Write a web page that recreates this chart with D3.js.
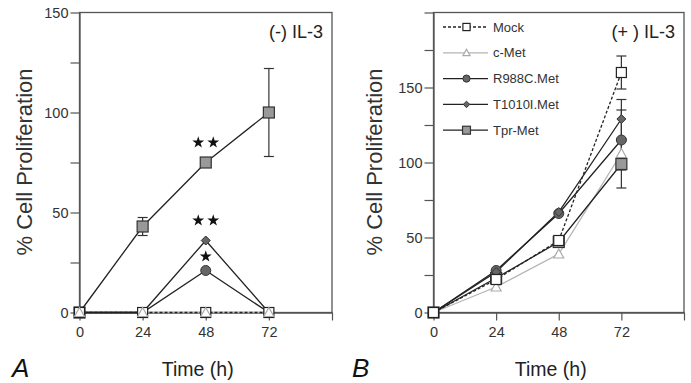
<!DOCTYPE html>
<html>
<head>
<meta charset="utf-8">
<script src="https://cdn.jsdelivr.net/npm/d3@7"></script>
<style>
  body { margin: 0; background: #fff; }
  svg { display: block; font-family: "Liberation Sans", Arial, sans-serif; }
</style>
</head>
<body>
<svg id="chart" width="691" height="383"></svg>
<script>
// time points (h)
const hours = [0, 24, 48, 72];
const xTicks = [0, 24, 48, 72, 96];
const seriesNames = ["Mock", "c-Met", "R988C.Met", "T1010I.Met", "Tpr-Met"];

// panel A, (-) IL-3
const minusMock = [0, 0, 0, 0];
const minusCMet = [0, 0, 0, 0];
const minusR988C = [0, 0, 21, 0];
const minusT1010I = [0, 0, 36, 0];
const minusTpr = [0, 43, 75, 100];
const minusTprErr = [0, 4.5, 0, 22];
const yTicksA = [0, 25, 50, 75, 100, 125, 150];
const yLabelsA = [0, 50, 100, 150];

// panel B, (+) IL-3
const plusMock = [0, 22, 48, 160];
const plusMockErr = [0, 0, 0, 11];
const plusCMet = [0, 17, 39, 106];
const plusR988C = [0, 28, 66, 115];
const plusR988CErr = [0, 0, 0, 20];
const plusT1010I = [0, 27, 67, 129];
const plusT1010IErr = [0, 0, 0, 13];
const plusTpr = [0, 23, 47, 99];
const plusTprErr = [0, 0, 0, 16];
const yTicksB = [0, 25, 50, 75, 100, 125, 150, 175, 200];
const yLabelsB = [0, 50, 100, 150];

// significance stars in panel A: [hour, value above which, number of stars]
const starsA = [[48, 75, 2], [48, 36, 2], [48, 21, 1]];

const styles = {
  "Mock":       { shape: "square",   fill: "#fff",  stroke: "#222", line: "#222", dash: "3,2", size: 10 },
  "c-Met":      { shape: "triangle", fill: "#fff",  stroke: "#aaa", line: "#b4b4b4", dash: null, size: 10 },
  "R988C.Met":  { shape: "circle",   fill: "#666",  stroke: "#333", line: "#222", dash: null, size: 10 },
  "T1010I.Met": { shape: "diamond",  fill: "#666",  stroke: "#333", line: "#222", dash: null, size: 9 },
  "Tpr-Met":    { shape: "square",   fill: "#999",  stroke: "#333", line: "#222", dash: null, size: 11 }
};

const svg = d3.select("#chart");

function marker(g, shape, x, y, s, fill, stroke) {
  const h = s / 2;
  if (shape === "square") {
    g.append("rect").attr("x", x - h).attr("y", y - h).attr("width", s).attr("height", s)
      .attr("fill", fill).attr("stroke", stroke).attr("stroke-width", 1.2);
  } else if (shape === "circle") {
    g.append("circle").attr("cx", x).attr("cy", y).attr("r", h)
      .attr("fill", fill).attr("stroke", stroke).attr("stroke-width", 1);
  } else if (shape === "diamond") {
    g.append("path").attr("d", `M${x},${y - h}L${x + h},${y}L${x},${y + h}L${x - h},${y}Z`)
      .attr("fill", fill).attr("stroke", stroke).attr("stroke-width", 1);
  } else if (shape === "triangle") {
    g.append("path").attr("d", `M${x},${y - h}L${x + h},${y + h * 0.8}L${x - h},${y + h * 0.8}Z`)
      .attr("fill", fill).attr("stroke", stroke).attr("stroke-width", 1.2);
  }
}

function drawPanel(cfg) {
  const x = d3.scaleLinear().domain([0, 96]).range(cfg.xRange);
  const y = d3.scaleLinear().domain(cfg.yDomain).range([312.5, 12.5]);
  const g = svg.append("g");

  // frame
  g.append("rect").attr("x", x(0)).attr("y", y.range()[1])
    .attr("width", x(96) - x(0)).attr("height", y.range()[0] - y.range()[1])
    .attr("fill", "none").attr("stroke", "#555").attr("stroke-width", 1.3);

  // axes
  const yAxis = d3.axisLeft(y).tickValues(cfg.yTicks).tickSize(9).tickSizeOuter(0)
    .tickFormat(d => cfg.yLabels.includes(d) ? d : "");
  const ga = g.append("g").attr("transform", `translate(${x(0)},0)`).call(yAxis);
  const xAxis = d3.axisBottom(x).tickValues(xTicks).tickSize(8).tickSizeOuter(0)
    .tickFormat(d => d === 96 ? "" : d);
  const gb = g.append("g").attr("transform", `translate(0,${y(0)})`).call(xAxis);
  [ga, gb].forEach(a => {
    a.select(".domain").attr("stroke", "#555").attr("stroke-width", 1.3);
    a.selectAll(".tick line").attr("stroke", "#555").attr("stroke-width", 1.2);
    a.selectAll(".tick text").attr("font-size", 14.5).attr("fill", "#333")
      .attr("font-family", "Liberation Sans, Arial, sans-serif");
  });
  ga.selectAll(".tick text").attr("x", -11).attr("dy", "0.34em");
  gb.selectAll(".tick text").attr("y", 14);

  // lines
  const line = d3.line().x((d, i) => x(hours[i])).y(d => y(d));
  cfg.series.forEach(s => {
    const st = styles[s.name];
    g.append("path").datum(s.values).attr("d", line).attr("fill", "none")
      .attr("stroke", st.line).attr("stroke-width", 1.3)
      .attr("stroke-dasharray", st.dash);
  });

  // error bars
  cfg.series.forEach(s => {
    if (!s.err) return;
    s.values.forEach((v, i) => {
      const e = s.err[i];
      if (!e) return;
      const cx = x(hours[i]);
      g.append("line").attr("x1", cx).attr("x2", cx).attr("y1", y(v - e)).attr("y2", y(v + e))
        .attr("stroke", "#333").attr("stroke-width", 1.2);
      [v - e, v + e].forEach(t => g.append("line").attr("x1", cx - 5).attr("x2", cx + 5)
        .attr("y1", y(t)).attr("y2", y(t)).attr("stroke", "#333").attr("stroke-width", 1.2));
    });
  });

  // markers
  cfg.markerOrder.forEach(name => {
    const s = cfg.series.find(d => d.name === name);
    const st = styles[name];
    s.values.forEach((v, i) => marker(g, st.shape, x(hours[i]), y(v), st.size, st.fill, st.stroke));
  });

  // texts
  svg.append("text").attr("transform", `translate(${cfg.yLabelX},162) rotate(-90)`)
    .attr("text-anchor", "middle").attr("dominant-baseline", "middle")
    .attr("font-size", 22).attr("fill", "#333").text("% Cell Proliferation");
  svg.append("text").attr("x", (x(0) + x(96)) / 2 - 8).attr("y", 376)
    .attr("text-anchor", "middle").attr("font-size", 19.5).attr("fill", "#222").text("Time (h)");
  svg.append("text").attr("x", cfg.letterX).attr("y", 377)
    .attr("font-size", 26).attr("font-style", "italic").attr("fill", "#111").text(cfg.letter);
  svg.append("text").attr("x", x(96) - 9).attr("y", 38).attr("text-anchor", "end")
    .attr("font-size", 18).attr("fill", "#222").text(cfg.title);

  return { x, y, g };
}

const A = drawPanel({
  xRange: [79.5, 332], yDomain: [0, 150], yTicks: yTicksA, yLabels: yLabelsA,
  series: [
    { name: "c-Met", values: minusCMet },
    { name: "Mock", values: minusMock },
    { name: "R988C.Met", values: minusR988C },
    { name: "T1010I.Met", values: minusT1010I },
    { name: "Tpr-Met", values: minusTpr, err: minusTprErr }
  ],
  markerOrder: ["R988C.Met", "T1010I.Met", "Tpr-Met", "Mock", "c-Met"],
  yLabelX: 26, letter: "A", letterX: 12, title: "(-) IL-3"
});

// stars
starsA.forEach(([h, v, n]) => {
  const cx = A.x(h), cy = A.y(v) - (n === 2 ? 20 : 0) - (v === 21 ? 14 : 0);
  for (let k = 0; k < n; k++) {
    const dx = n === 2 ? (k === 0 ? -7.5 : 7.5) : 0;
    A.g.append("path").attr("d", d3.symbol().type(d3.symbolStar).size(44)())
      .attr("transform", `translate(${cx + dx},${cy})`).attr("fill", "#111");
  }
});

const B = drawPanel({
  xRange: [433.5, 684], yDomain: [0, 200], yTicks: yTicksB, yLabels: yLabelsB,
  series: [
    { name: "c-Met", values: plusCMet },
    { name: "Tpr-Met", values: plusTpr, err: plusTprErr },
    { name: "R988C.Met", values: plusR988C, err: plusR988CErr },
    { name: "T1010I.Met", values: plusT1010I, err: plusT1010IErr },
    { name: "Mock", values: plusMock, err: plusMockErr }
  ],
  markerOrder: ["c-Met", "Tpr-Met", "R988C.Met", "T1010I.Met", "Mock"],
  yLabelX: 376, letter: "B", letterX: 352, title: "(+ ) IL-3"
});

// legend
const legend = svg.append("g");
seriesNames.forEach((name, i) => {
  const st = styles[name];
  const ly = 27 + i * 25.8;
  legend.append("line").attr("x1", 443).attr("x2", 488).attr("y1", ly).attr("y2", ly)
    .attr("stroke", st.line).attr("stroke-width", 1.3).attr("stroke-dasharray", st.dash);
  marker(legend, st.shape, 466.5, ly, st.size * 0.72, st.fill, st.stroke);
  legend.append("text").attr("x", 493).attr("y", ly + 4.5).attr("font-size", 13)
    .attr("fill", "#333").text(name);
});
</script>
</body>
</html>
